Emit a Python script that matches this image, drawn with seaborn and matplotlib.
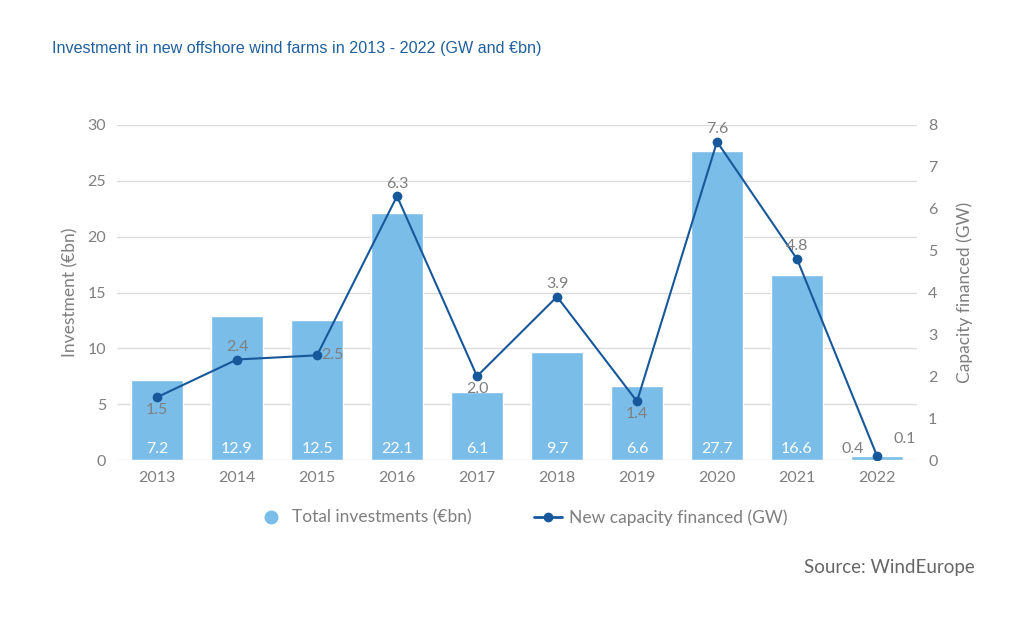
import pandas as pd
import matplotlib.pyplot as plt
import seaborn as sns
from matplotlib.lines import Line2D

# ==========================================
# DADOS
# ==========================================
YEARS = ['2013', '2014', '2015', '2016', '2017', '2018', '2019', '2020', '2021', '2022']
INVESTMENT = [7.2, 12.9, 12.5, 22.1, 6.1, 9.7, 6.6, 27.7, 16.6, 0.4]
CAPACITY = [1.5, 2.4, 2.5, 6.3, 2.0, 3.9, 1.4, 7.6, 4.8, 0.1]
# posição do rótulo da linha: 'above', 'below', 'right', 'upright'
CAP_LABEL_POS = ['below', 'above', 'right', 'above', 'below', 'above', 'below', 'above', 'above', 'upright']

BAR_COLOR = '#7abde8'
LINE_COLOR = '#17589a'
TEXT_GREY = '#7f7f7f'
GRID_COLOR = '#dcdcdc'

df = pd.DataFrame({'year': YEARS, 'invest': INVESTMENT, 'cap': CAPACITY})

sns.set_theme(style='white')
plt.rcParams['font.family'] = ['Lato', 'DejaVu Sans']

fig = plt.figure(figsize=(10.24, 6.24), dpi=100)
ax = fig.add_axes([0.1143, 0.2628, 0.7812, 0.5369])

sns.barplot(data=df, x='year', y='invest', color=BAR_COLOR, width=0.65,
            saturation=1, ax=ax, zorder=2)
ax.set_ylim(0, 30)
ax.set_yticks(range(0, 31, 5))
ax.set_xlim(-0.5, 9.5)
ax.grid(axis='y', color=GRID_COLOR, linewidth=1, zorder=0)
ax.set_axisbelow(True)
ax.set_xlabel('')
ax.set_ylabel('Investment (€bn)', fontsize=12.5, color=TEXT_GREY, labelpad=6)
ax.tick_params(axis='both', colors=TEXT_GREY, labelsize=11.5, length=0, pad=8)
for s in ax.spines.values():
    s.set_visible(False)

# rótulos das barras
for i, v in enumerate(INVESTMENT):
    if v < 2:
        ax.text(i - 0.3, 0.35, f'{v:.1f}', ha='center', va='bottom', color=TEXT_GREY, fontsize=11.5)
    else:
        ax.text(i, 0.4, f'{v:.1f}', ha='center', va='bottom', color='white', fontsize=11.5)

ax2 = ax.twinx()
x_pos = list(range(len(YEARS)))
sns.lineplot(x=x_pos, y=CAPACITY, color=LINE_COLOR, marker='o', markersize=7,
             markeredgewidth=0, linewidth=1.5, ax=ax2)
ax2.set_ylim(0, 8)
ax2.set_yticks(range(0, 9))
ax2.set_xlim(-0.5, 9.5)
ax2.set_ylabel('Capacity financed (GW)', fontsize=12.5, color=TEXT_GREY, labelpad=14)
ax2.tick_params(axis='y', colors=TEXT_GREY, labelsize=11.5, length=0, pad=8)
ax2.grid(False)
for s in ax2.spines.values():
    s.set_visible(False)

for i, (v, pos) in enumerate(zip(CAPACITY, CAP_LABEL_POS)):
    if pos == 'above':
        ax2.annotate(f'{v:.1f}', (i, v), xytext=(0, 4), textcoords='offset points',
                     ha='center', va='bottom', color=TEXT_GREY, fontsize=11.5)
    elif pos == 'below':
        ax2.annotate(f'{v:.1f}', (i, v), xytext=(0, -4), textcoords='offset points',
                     ha='center', va='top', color=TEXT_GREY, fontsize=11.5)
    elif pos == 'right':
        ax2.annotate(f'{v:.1f}', (i, v), xytext=(3, 0), textcoords='offset points',
                     ha='left', va='center', color=TEXT_GREY, fontsize=11.5)
    else:
        ax2.annotate(f'{v:.1f}', (i, v), xytext=(12, 7), textcoords='offset points',
                     ha='left', va='bottom', color=TEXT_GREY, fontsize=11.5)

# legenda
handles = [
    Line2D([], [], marker='o', linestyle='', color=BAR_COLOR, markersize=9),
    Line2D([], [], marker='o', color=LINE_COLOR, markersize=6, linewidth=2),
]
fig.legend(handles, ['Total investments (€bn)', 'New capacity financed (GW)'],
           loc='center', bbox_to_anchor=(0.51, 0.171), ncol=2, frameon=False,
           fontsize=12.5, labelcolor=TEXT_GREY, columnspacing=3.6, handletextpad=0.4,
           handlelength=1.6)

fig.text(0.051, 0.923, 'Investment in new offshore wind farms in 2013 - 2022 (GW and €bn)',
         color='#1f5f9f', fontsize=11.6, ha='left', va='center',
         family=['Liberation Sans', 'DejaVu Sans'])
fig.text(0.952, 0.09, 'Source: WindEurope', color='#666666', fontsize=13.5,
         ha='right', va='center')

fig.savefig('out.png', dpi=100)
